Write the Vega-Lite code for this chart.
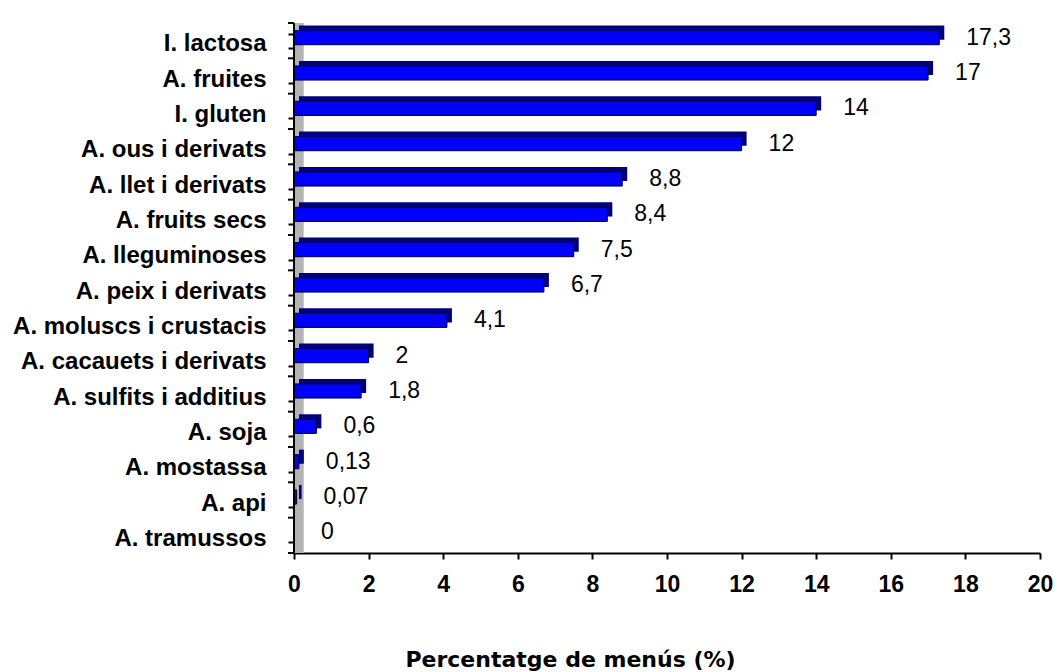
{
  "$schema": "https://vega.github.io/schema/vega-lite/v6.json",
  "width": 746,
  "height": 530,
  "autosize": "none",
  "padding": {"left": 294, "top": 23, "right": 16, "bottom": 119},
  "background": "white",
  "config": {
    "view": {"stroke": null},
    "font": "Liberation Sans",
    "axis": {"grid": false, "zindex": 1, "domainColor": "black", "domainWidth": 2, "tickColor": "black", "tickWidth": 2, "tickSize": 6, "labelColor": "black", "titleColor": "black"}
  },
  "data": {
    "values": [
      {"cat": "I. lactosa", "v": 17.3, "lbl": "17,3"},
      {"cat": "A. fruites", "v": 17, "lbl": "17"},
      {"cat": "I. gluten", "v": 14, "lbl": "14"},
      {"cat": "A. ous i derivats", "v": 12, "lbl": "12"},
      {"cat": "A. llet i derivats", "v": 8.8, "lbl": "8,8"},
      {"cat": "A. fruits secs", "v": 8.4, "lbl": "8,4"},
      {"cat": "A. lleguminoses", "v": 7.5, "lbl": "7,5"},
      {"cat": "A. peix i derivats", "v": 6.7, "lbl": "6,7"},
      {"cat": "A. moluscs i crustacis", "v": 4.1, "lbl": "4,1"},
      {"cat": "A. cacauets i derivats", "v": 2, "lbl": "2"},
      {"cat": "A. sulfits i additius", "v": 1.8, "lbl": "1,8"},
      {"cat": "A. soja", "v": 0.6, "lbl": "0,6"},
      {"cat": "A. mostassa", "v": 0.13, "lbl": "0,13"},
      {"cat": "A. api", "v": 0.07, "lbl": "0,07"},
      {"cat": "A. tramussos", "v": 0, "lbl": "0"}
    ]
  },
  "layer": [
    {
      "data": {"values": [{}]},
      "mark": {"type": "rect", "color": "#b4b4b4"},
      "encoding": {
        "x": {"datum": 0, "type": "quantitative"},
        "x2": {"datum": 0.26}
      }
    },
    {
      "mark": {"type": "bar", "color": "#000080", "xOffset": 5, "yOffset": -8},
      "encoding": {
        "y": {"field": "cat", "type": "nominal", "sort": null,
          "scale": {"paddingInner": 0.6, "paddingOuter": 0.3}},
        "x": {"field": "v", "type": "quantitative"}
      }
    },
    {
      "mark": {"type": "bar", "color": "#0000FF", "stroke": "#000030", "strokeWidth": 1, "yOffset": -3},
      "encoding": {
        "y": {"field": "cat", "type": "nominal", "sort": null,
          "scale": {"paddingInner": 0.6, "paddingOuter": 0.3},
          "axis": {"title": null, "ticks": true, "tickSize": 6, "tickWidth": 2, "tickColor": "black", "labelFontSize": 24, "labelFontWeight": "bold", "labelFont": "Liberation Sans", "labelPadding": 22, "labelLimit": 400, "labelOffset": 3, "tickBand": "extent"}},
        "x": {"field": "v", "type": "quantitative",
          "scale": {"domain": [0, 20], "nice": false},
          "axis": {"values": [0, 2, 4, 6, 8, 10, 12, 14, 16, 18, 20], "labelFontSize": 23, "labelFontWeight": "bold", "labelFont": "Liberation Sans", "labelPadding": 14, "labelFlush": false,
            "title": "Percentatge de menús (%)", "titleFont": "DejaVu Sans", "titleFontSize": 22, "titleFontWeight": "bold", "titleX": 276, "titleY": 113, "titleAlign": "center", "titleBaseline": "alphabetic", "titleAnchor": null}}
      }
    },
    {
      "data": {"values": [{}]},
      "mark": {"type": "rule", "color": "black", "strokeWidth": 2},
      "encoding": {
        "x": {"datum": 0, "type": "quantitative"}
      }
    },
    {
      "mark": {"type": "rule", "color": "black", "strokeWidth": 2, "xOffset": -6, "x2Offset": 0, "yOffset": 17.67},
      "encoding": {
        "y": {"field": "cat", "type": "nominal", "sort": null},
        "x": {"datum": 0, "type": "quantitative"},
        "x2": {"datum": 0}
      }
    },
    {
      "transform": [{"filter": "datum.cat === 'I. lactosa'"}],
      "mark": {"type": "rule", "color": "black", "strokeWidth": 2, "xOffset": -6, "x2Offset": 0, "yOffset": -17.67},
      "encoding": {
        "y": {"field": "cat", "type": "nominal", "sort": null},
        "x": {"datum": 0, "type": "quantitative"},
        "x2": {"datum": 0}
      }
    },
    {
      "mark": {"type": "text", "align": "left", "baseline": "middle", "dx": 27, "dy": -3, "fontSize": 23, "font": "Liberation Sans", "color": "black"},
      "encoding": {
        "y": {"field": "cat", "type": "nominal", "sort": null},
        "x": {"field": "v", "type": "quantitative"},
        "text": {"field": "lbl"}
      }
    }
  ]
}
